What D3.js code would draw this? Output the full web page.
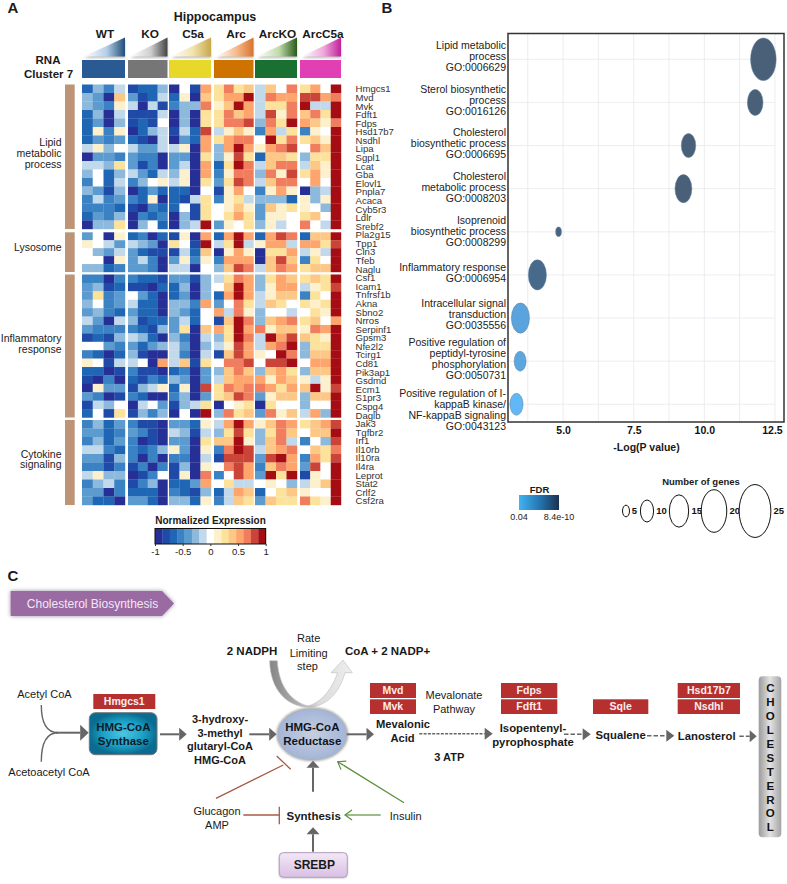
<!DOCTYPE html>
<html>
<head>
<meta charset="utf-8">
<script src="https://cdn.jsdelivr.net/npm/d3@7"></script>
<style>
html,body{margin:0;padding:0;background:#fff}
svg{display:block;font-family:"Liberation Sans",Arial,sans-serif}
</style>
</head>
<body>
<svg id="chart" width="787" height="884"></svg>
<script>
// ---------- Panel A data ----------
const groups = ["WT","KO","C5a","Arc","ArcKO","ArcC5a"];
const groupColors = ["#2a5a94","#767676","#e8d82a","#cf7300","#1a7030","#e040b4"];
const lipidGenes = ["Hmgcs1","Mvd","Mvk","Fdft1","Fdps","Hsd17b7","Nsdhl","Lipa","Sgpl1","Lcat","Gba","Elovl1","Pnpla7","Acaca","Cyb5r3","Ldlr","Srebf2"];
const lysosomeGenes = ["Pla2g15","Tpp1","Cln3","Tfeb","Naglu"];
const inflammatoryGenes = ["Csf1","Icam1","Tnfrsf1b","Akna","Sbno2","Nrros","Serpinf1","Gpsm3","Nfe2l2","Tcirg1","Cd81","Pik3ap1","Gsdmd","Ecm1","S1pr3","Cspg4","Daglb"];
const cytokineGenes = ["Jak3","Tgfbr2","Irf1","Il10rb","Il10ra","Il4ra","Leprot","Stat2","Crlf2","Csf2ra"];
// one letter per cell: a (-1) ... w (0) ... n (+1)
const expressionLevels = "abcdefgwhijklmn";
const lipidExpression = [
"cfdg bccf awbk ilij gjwl ikwn",
"feaj ebcg chaj ikkn glkk mmkl",
"fedh gagb dffl hjnk giil nggn",
"cfag bbbg afai iljk gmhl jlin",
"ceaf bcbw afai illm flin kjhl",
"chdh acfg bgcm ghjh dkgi dhwn",
"cede cbag aeck ikll wnil ijhn",
"ghfw geeg ghak fknk hklm wljn",
"aeed edda eeai fhmi cjji fiin",
"ggfi ebda egak cinl gjll gjhn",
"fwcf gecg fhak dhll flhm ikhn",
"dwcg dfwh ghai eiml gjll wkwn",
"febf acec ccaw bhkw dhkh afgn",
"dgde dcha cbgi dhig fffc hfhn",
"dddc badc cwbi whjh ejhi hwfn",
"cedf adcd afbi wiki ehhw ijwn",
"affi afwc afgn ehwi fhgw lwgn"];
const lysosomeExpression = [
"ewah cdac bhak cknk ckml cjjn",
"hwge gfea iwbn ging hkkg kkim",
"wfeg ecbb bgcj ahkh aiik ghgn",
"wwah egda ehdh dkkk ajmj diwn",
"ffcd eeda ggaw fjml gjlk ijjn"];
const inflammatoryExpression = [
"ddad dccb eebf gilk fikj ijin",
"efbc bbac cfaf wjnk fhkk ghim",
"eide weca ceaf cknk ghjj diwn",
"fwde gcca ffdk ewli gjiw ihin",
"efdc ecca fecw kglh fwwg wihn",
"geag fbcc egcw bjnl fjkl ijwk",
"eddd dcbf eiaj kink lhjj hlkn",
"bcbf gfca fdag finl gnkm jihn",
"wwed ecef geaf ghmk gkln fiin",
"dcac fbaa gdag bjmk hwnl fjjn",
"hwbg gwak gjbi wllm wmmn wkkn",
"ccab dbba cdae fjlj fjki fjjn",
"bada cbdc feae gjkk khkj hghn",
"ahee bfgh cham ilkl lkik jnhm",
"edab dcaa dfae ijml ehjj fjjn",
"bgfw agwe bfgi awhi aiww fwwn",
"cwbi bfdf awan flij elhj gkfn"];
const cytokineExpression = [
"dfce dbba eech gknk hjlk ijkm",
"eecd edba gfbg fimi filj wjjn",
"dfce daba eeai jjnh fjlg dwfm",
"ggdc dcdf heah dlnm gjkl wjil",
"eebf dada ddag bmmm emnk dkim",
"ddbd bdad bfah wlmk djlk emwn",
"ghff abdw bhal dwmk enin bhwn",
"dfgd bdfa ccek wigg whwf ghjn",
"eead ccca dcbf cgkj cwij hwwn",
"ecca eeca ffch dgji ejii lihn"];
const sectionNames = ["Lipid metabolic process","Lysosome","Inflammatory response","Cytokine signaling"];
const colorStops = ["#252f96","#1f4aa8","#1f66b5","#3a82c3","#5b9bcf","#8cb9dc","#c2d9ec","#ffffff","#fdf1cd","#fde29b","#fdc786","#fda56d","#f07e5e","#cb4438","#a50d14"];
const colorTicks = [-1,-0.5,0,0.5,1];

// ---------- Panel B data ----------
const goTerms = [
 ["Lipid metabolic","process","GO:0006629"],
 ["Sterol biosynthetic","process","GO:0016126"],
 ["Cholesterol","biosynthetic process","GO:0006695"],
 ["Cholesterol","metabolic process","GO:0008203"],
 ["Isoprenoid","biosynthetic process","GO:0008299"],
 ["Inflammatory response","GO:0006954"],
 ["Intracellular signal","transduction","GO:0035556"],
 ["Positive regulation of","peptidyl-tyrosine","phosphorylation","GO:0050731"],
 ["Positive regulation of I-","kappaB kinase/","NF-kappaB signaling","GO:0043123"]];
const logP = [12.09,11.8,9.44,9.26,4.84,4.09,3.49,3.48,3.35];
const geneCounts = [20,12,11,13,4,14,14,9,10];
const fdrValues = [8.4e-10,5e-9,1e-6,2e-6,1e-3,0.008,0.032,0.033,0.04];
const xTicks = [5,7.5,10,12.5];
const xGrid = [3.75,5,6.25,7.5,8.75,10,11.25,12.5];
const sizeLegend = [5,10,15,20,25];

// ---------- Panel C data ----------
const geneBoxes = [
 ["Hmgcs1",93.3,694,62,15],["Mvd",370,683,46,15],["Mvk",370,699.3,46,14.7],
 ["Fdps",501,683,56.3,15],["Fdft1",501,699.3,56.3,14.7],["Sqle",593,699.3,55.3,14.7],
 ["Hsd17b7",677.7,683,62.3,15],["Nsdhl",677.7,699.3,62.3,14.7]];

const svg = d3.select("#chart");
const defs = svg.append("defs");
function blur(id,sd,pad){
  defs.append("filter").attr("id",id).attr("x","-30%").attr("y","-30%").attr("width","160%").attr("height","160%")
    .append("feGaussianBlur").attr("stdDeviation",sd);
}
blur("soft",2); blur("soft1",1.2); blur("soft3",3);
function linGrad(id,stops,x2=1,y2=0){
  const g=defs.append("linearGradient").attr("id",id).attr("x1",0).attr("y1",0).attr("x2",x2).attr("y2",y2);
  stops.forEach(([o,c])=>g.append("stop").attr("offset",o).attr("stop-color",c));
}
function label(g,x,y,str,size,weight,anchor,fill){
  return g.append("text").attr("x",x).attr("y",y).attr("dy","0.35em").attr("font-size",size)
    .attr("font-weight",weight||"normal").attr("text-anchor",anchor||"middle").attr("fill",fill||"#1a1a1a").text(str);
}

// ================= PANEL A =================
const A = svg.append("g");
label(A,13,8,"A",15,"bold"); label(svg,387,8,"B",15,"bold"); label(svg,13,576,"C",15,"bold");
label(A,215,17,"Hippocampus",12.5,"bold");
const groupSpans = [[82,125],[128,167.5],[169,211],[214,253.5],[255,297],[300,341]];
const groupCentres = [105,150,193,236,277.5,323];
const triStops = [
 ["#ffffff","#b5cfe8","#1f4e79"],["#ffffff","#cfcfcf","#444444"],["#ffffff","#f2e3ad","#c8a84b"],
 ["#ffffff","#f6b98a","#d8742a"],["#ffffff","#bfdcaa","#2a5a1a"],["#ffffff","#f0a8dc","#c0209a"]];
groups.forEach((name,i)=>{
  const [x0,x1]=groupSpans[i];
  label(A,groupCentres[i],33.5,name,11.8,"bold");
  linGrad("tri"+i,[[0,triStops[i][0]],[0.55,triStops[i][1]],[1,triStops[i][2]]]);
  const pts=`${x0+2},56.5 ${x1},37.5 ${x1},56.5`;
  A.append("polygon").attr("points",pts).attr("fill","#888").attr("opacity",.55).attr("filter","url(#soft1)").attr("transform","translate(0,1.5)");
  A.append("polygon").attr("points",pts).attr("fill",`url(#tri${i})`);
  A.append("rect").attr("x",x0).attr("y",60).attr("width",x1-x0).attr("height",18).attr("fill",groupColors[i]);
});
label(A,48,60,"RNA",11.5,"bold"); label(A,48.5,74,"Cluster 7",11.5,"bold");

const color = d3.scaleQuantize().domain([-1,1]).range(colorStops);
const levelValue = d3.scaleLinear().domain([0,14]).range([-1+1/15,1-1/15]);
const sections = [
 {name:sectionNames[0],rows:lipidExpression,genes:lipidGenes,y:[84.5,229],lab:[["Lipid",142.7],["metabolic",153.3],["process",164.5]]},
 {name:sectionNames[1],rows:lysosomeExpression,genes:lysosomeGenes,y:[232.3,272],lab:[["Lysosome",247.7]]},
 {name:sectionNames[2],rows:inflammatoryExpression,genes:inflammatoryGenes,y:[274.5,417.5],lab:[["Inflammatory",338],["response",349]]},
 {name:sectionNames[3],rows:cytokineExpression,genes:cytokineGenes,y:[420,505],lab:[["Cytokine",454],["signaling",464.5]]}];
const colScales = groupSpans.map(s=>d3.scaleBand().domain(d3.range(4)).range(s));
sections.forEach(sec=>{
  const y=d3.scaleBand().domain(sec.genes).range(sec.y);
  A.append("rect").attr("x",65).attr("width",9.7).attr("y",sec.y[0]).attr("height",sec.y[1]-sec.y[0]).attr("fill","#bd9475");
  sec.lab.forEach(([t,yy])=>label(A,61.5,yy,t,10.5,"normal","end","#222"));
  const cells=sec.rows.flatMap((row,r)=>row.split(" ").flatMap((part,g)=>[...part].map((ch,c)=>({
    gene:sec.genes[r],g,c,value:levelValue(expressionLevels.indexOf(ch))}))));
  A.append("g").selectAll("rect").data(cells).join("rect")
    .attr("x",d=>colScales[d.g](d.c)).attr("width",d=>colScales[d.g].bandwidth()+.2)
    .attr("y",d=>y(d.gene)).attr("height",y.bandwidth()+.2).attr("fill",d=>color(d.value));
});
const allGenes=[...lipidGenes,...lysosomeGenes,...inflammatoryGenes,...cytokineGenes];
const geneY=d3.scalePoint().domain(allGenes).range([89,501]);
A.append("g").selectAll("text").data(allGenes).join("text")
  .attr("x",355.5).attr("y",d=>geneY(d)).attr("dy","0.35em").attr("font-size",9.6).attr("fill","#333").text(d=>d);

// colour bar
label(A,210.5,520.5,"Normalized Expression",10,"bold");
const cbX=d3.scaleLinear().domain([-1,1]).range([155,265.7]);
const cbBins=colorStops.map((c,i)=>({c,x0:-1+i*2/15,x1:-1+(i+1)*2/15}));
A.append("g").selectAll("rect").data(cbBins).join("rect")
  .attr("x",d=>cbX(d.x0)).attr("width",d=>cbX(d.x1)-cbX(d.x0)+.3).attr("y",528.5).attr("height",15.5).attr("fill",d=>d.c);
A.append("rect").attr("x",155).attr("y",528.5).attr("width",110.7).attr("height",15.5).attr("fill","none").attr("stroke","#111").attr("stroke-width",1);
const cbAxis=A.append("g").attr("transform","translate(0,544)")
  .call(d3.axisBottom(cbX).tickValues(colorTicks).tickSize(2).tickFormat(d=>d===0?"0":String(d)));
cbAxis.select(".domain").remove();
cbAxis.selectAll("line").attr("stroke","#333");
cbAxis.selectAll("text").attr("font-size",9.5).attr("font-family","inherit").attr("fill","#222").attr("y",4);

// ================= PANEL B =================
const B=svg.append("g");
const plot={l:508,r:784,t:33.5,b:422};
const x=d3.scaleLinear().domain([3.05,12.82]).range([plot.l,plot.r]);
const yBand=d3.scalePoint().domain(d3.range(goTerms.length)).range([59.3,404.3]);
const ry=d3.scaleLinear().domain([4,20]).range([4.8,21.3]);
const fdrColor=d3.scaleLinear().domain([0.04,0.032,0.008,0.001,0]).range(["#62b8f6","#5aa3dc","#47698a","#4a6480","#4a6078"]);
B.append("rect").attr("x",plot.l).attr("y",plot.t).attr("width",plot.r-plot.l).attr("height",plot.b-plot.t).attr("fill","#fff");
B.append("g").selectAll("line").data(xGrid).join("line")
  .attr("x1",d=>x(d)).attr("x2",d=>x(d)).attr("y1",plot.t).attr("y2",plot.b).attr("stroke","#e9e9ee").attr("stroke-width",.8);
B.append("g").selectAll("line").data(d3.range(goTerms.length)).join("line")
  .attr("x1",plot.l).attr("x2",x(12.5)).attr("y1",d=>yBand(d)).attr("y2",d=>yBand(d)).attr("stroke","#e9e9ee").attr("stroke-width",.8);
B.append("rect").attr("x",plot.l).attr("y",plot.t).attr("width",plot.r-plot.l).attr("height",plot.b-plot.t)
  .attr("fill","none").attr("stroke","#333").attr("stroke-width",1.5);
B.append("g").selectAll("ellipse").data(goTerms.map((_,i)=>i)).join("ellipse")
  .attr("cx",i=>x(logP[i])).attr("cy",i=>yBand(i))
  .attr("rx",i=>ry(geneCounts[i])*0.6).attr("ry",i=>ry(geneCounts[i]))
  .attr("fill",i=>fdrColor(fdrValues[i])).attr("stroke","#5b7d9c").attr("stroke-width",.5);
const labelShift=[-2.5,-2,-2,-1.5,0,-2,-4,-2,6];
goTerms.forEach((lines,i)=>{
  const cy=yBand(i)+labelShift[i], lh=11;
  lines.forEach((t,k)=>label(B,506,cy+(k-(lines.length-1)/2)*lh,t,10.5,"normal","end","#222"));
});
const xAxis=B.append("g").attr("transform",`translate(0,${plot.b})`)
  .call(d3.axisBottom(x).tickValues(xTicks).tickSize(0).tickFormat(d3.format(".1f")));
xAxis.select(".domain").remove();
xAxis.selectAll("text").attr("font-size",10.5).attr("font-weight","bold").attr("font-family","inherit").attr("fill","#111").attr("y",4.5)
  .attr("dx",d=>d===12.5?-3:0);
label(B,646.5,447.5,"-Log(P value)",10.5,"bold");

// FDR legend
label(B,539.5,489.5,"FDR",9.5,"bold");
linGrad("fdr",[[0,"#41b3f2"],[.5,"#2478b4"],[1,"#1c3150"]]);
B.append("rect").attr("x",519).attr("y",495).attr("width",40).attr("height",15).attr("fill","url(#fdr)");
label(B,519,516.5,"0.04",9,"normal","middle","#222");
label(B,559,516.5,"8.4e-10",9,"normal","middle","#222");
// size legend
label(B,701,482,"Number of genes",9.5,"bold");
const sizeCx=[626,647,679,714,755];
sizeLegend.forEach((n,i)=>{
  const r=ry(n);
  B.append("ellipse").attr("cx",sizeCx[i]).attr("cy",511).attr("rx",r*0.6).attr("ry",r).attr("fill","#fff").attr("stroke","#111").attr("stroke-width",1);
  label(B,sizeCx[i]+r*0.6+(n<10?5:8),511,String(n),9.5,"bold","middle","#111");
});

// ================= PANEL C =================
const C=svg.append("g");
const GREY="#666";
function arrow(x1,y1,x2,y2,opts={}){
  const c=opts.color||GREY, w=opts.w||2, hl=opts.hl||7.5, hw=opts.hw||6;
  const a=Math.atan2(y2-y1,x2-x1), ux=Math.cos(a), uy=Math.sin(a);
  const bx=x2-ux*hl, by=y2-uy*hl;
  C.append("line").attr("x1",x1).attr("y1",y1).attr("x2",bx).attr("y2",by).attr("stroke",c).attr("stroke-width",w)
    .attr("stroke-dasharray",opts.dash||null);
  if(opts.open){
    C.append("path").attr("d",`M${bx-uy*hw},${by+ux*hw}L${x2},${y2}L${bx+uy*hw},${by-ux*hw}`).attr("fill","none").attr("stroke",c).attr("stroke-width",w);
    C.append("line").attr("x1",bx).attr("y1",by).attr("x2",x2).attr("y2",y2).attr("stroke",c).attr("stroke-width",w);
  } else {
    C.append("path").attr("d",`M${bx-uy*hw},${by+ux*hw}L${x2},${y2}L${bx+uy*hw},${by-ux*hw}Z`).attr("fill",c);
  }
}
function tbar(x1,y1,x2,y2,bx1,by1,bx2,by2){
  const c="#a85a45";
  C.append("line").attr("x1",x1).attr("y1",y1).attr("x2",x2).attr("y2",y2).attr("stroke",c).attr("stroke-width",1.3);
  C.append("line").attr("x1",bx1).attr("y1",by1).attr("x2",bx2).attr("y2",by2).attr("stroke",c).attr("stroke-width",1.3);
}
// banner
const bannerPts="10.7,591 162,591 174,603.5 162,616 10.7,616";
C.append("polygon").attr("points",bannerPts).attr("fill","#7d6a8a").attr("opacity",.75).attr("filter","url(#soft)");
C.append("polygon").attr("points",bannerPts).attr("fill","#9a6aa3");
label(C,92.5,604,"Cholesterol Biosynthesis",12,"normal","middle","#f1e8f3");

// curved rate-limiting arrow
linGrad("curve",[[0,"#858585"],[.35,"#b0b0b0"],[.6,"#dcdcdc"],[1,"#eeeeee"]]);
C.append("path").attr("d","M269.7 660.7 C270 690 288 708 310 707 C326 706 339 694 345 672.7 L352.3 672.7 L343 660 L331 672.7 L337.5 672.7 C332 690 320 703 308 706 C294 702 279 690 277.3 660.7 Z")
  .attr("fill","url(#curve)").attr("stroke","#bdbdbd").attr("stroke-width",.6);
label(C,252,650.7,"2 NADPH",11.5,"bold");
label(C,308.7,638.3,"Rate",11); label(C,308.7,652.7,"Limiting",11); label(C,307.5,665.7,"step",11);
label(C,387.5,650.7,"CoA + 2 NADP+",11.5,"bold");

// acetyl merge
label(C,44.5,694.3,"Acetyl CoA",11);
label(C,49,772.3,"Acetoacetyl CoA",11);
C.append("path").attr("d","M41.3 705 C41.3 722 46 732.7 58 732.7 M41.3 761.7 C41.3 744 46 732.7 58 732.7").attr("fill","none").attr("stroke",GREY).attr("stroke-width",1.4);
arrow(56,732.7,88.7,732.7,{w:2,hl:8.5,hw:8});

// synthase
linGrad("dummy",[[0,"#000"],[1,"#000"]]);
const syn=defs.append("radialGradient").attr("id","syn");
syn.append("stop").attr("offset",0).attr("stop-color","#4cc6e4");
syn.append("stop").attr("offset",.6).attr("stop-color","#1ba0c6");
syn.append("stop").attr("offset",1).attr("stop-color","#0a6c90");
C.append("rect").attr("x",89.3).attr("y",712.7).attr("width",67.7).attr("height",42).attr("rx",6).attr("fill","url(#syn)").attr("stroke","#777").attr("stroke-width",1);
label(C,123.3,727.3,"HMG-CoA",11.5,"bold","middle","#0c1c28"); label(C,123.3,741.3,"Synthase",11.5,"bold","middle","#0c1c28");
arrow(160,734.3,186.7,734.3,{hl:7.5,hw:6.5});
[["3-hydroxy-",719],["3-methyl",733],["glutaryl-CoA",746.3],["HMG-CoA",760]].forEach(([t,yy])=>label(C,220,yy,t,11,"bold"));
arrow(249.3,734.3,276.7,734.3,{hl:7.5,hw:6.5});

// reductase
C.append("ellipse").attr("cx",312.3).attr("cy",734.3).attr("rx",36).attr("ry",27).attr("fill","#888").attr("opacity",.7).attr("filter","url(#soft1)");
const red=defs.append("radialGradient").attr("id","red");
red.append("stop").attr("offset",0).attr("stop-color","#c8cfdd");
red.append("stop").attr("offset",1).attr("stop-color","#a3b5d8");
C.append("ellipse").attr("cx",312.3).attr("cy",734.3).attr("rx",34.3).attr("ry",25.3).attr("fill","url(#red)");
label(C,312.3,727.3,"HMG-CoA",11.5,"bold","middle","#10141f"); label(C,312.3,741.3,"Reductase",11.5,"bold","middle","#10141f");
arrow(346.7,734.3,374,734.3,{hl:7.5,hw:6.5});

// gene boxes
geneBoxes.forEach(([t,xx,yy,w,h])=>{
  C.append("rect").attr("x",xx).attr("y",yy).attr("width",w).attr("height",h).attr("fill","#b5302f");
  label(C,xx+w/2,yy+h/2,t,10.5,"bold","middle","#fbeeee");
});
label(C,454,695,"Mevalonate",11); label(C,454,709.3,"Pathway",11);
label(C,403,724,"Mevalonic",11.2,"bold"); label(C,402.5,738,"Acid",11.2,"bold");
label(C,449.3,757.3,"3 ATP",11,"bold");
label(C,533,728,"Isopentenyl-",11.3,"bold"); label(C,533,742.3,"pyrophosphate",11.3,"bold");
label(C,620.7,735,"Squalene",11.3,"bold"); label(C,706.7,735.7,"Lanosterol",11.3,"bold");
const dash="3,1.6";
arrow(419.3,733.7,492.7,733.7,{dash:"3,1.3",w:1.5,hl:8,hw:6});
arrow(564,734.3,590.7,734.3,{dash:"4.5,2",w:1.5,hl:8,hw:6});
arrow(647,735.7,674.3,735.7,{dash:"4.5,2",w:1.5,hl:8,hw:6});
arrow(739.3,736.3,756.7,736.3,{dash:"4.5,2",w:1.5,hl:7,hw:6});

// cholesterol column
linGrad("cholH",[[0,"#9b9b9b"],[.5,"#e2e2e2"],[1,"#a5a5a5"]]);
C.append("rect").attr("x",758.7).attr("y",676.3).attr("width",22.6).attr("height",161).attr("rx",4).attr("fill","url(#cholH)");
const chol=[..."CHOLESTEROL"];
const cholY=d3.scalePoint().domain(d3.range(chol.length)).range([688.3,827.3]);
chol.forEach((ch,i)=>label(C,770.3,cholY(i),ch,11.5,"bold","middle","#111"));

// lower regulators
arrow(313,791.7,313,760.7,{hl:7,hw:6.5});
arrow(313,851.7,313,827.3,{hl:7,hw:6.5});
tbar(216,798.3,283.3,765,276.7,756,290.7,769.3);
tbar(243.3,815,279.3,815,279.3,806.7,279.3,824.3);
arrow(404,802.7,337.7,761.7,{color:"#5a8f3a",w:1.2,open:true,hl:7,hw:5});
arrow(380.7,815,345,815,{color:"#5a8f3a",w:1.2,open:true,hl:7,hw:5});
label(C,217,811,"Glucagon",11); label(C,217,824.7,"AMP",11);
label(C,313.7,815.7,"Synthesis",11.5,"bold");
label(C,405.7,816,"Insulin",11);
linGrad("srebp",[[0,"#f3e8f6"],[1,"#d8c0e3"]],0,1);
C.append("rect").attr("x",279.3).attr("y",853.5).attr("width",68).attr("height",24.5).attr("rx",4).attr("fill","#888").attr("opacity",.6).attr("filter","url(#soft1)");
C.append("rect").attr("x",279.3).attr("y",852.7).attr("width",68).attr("height",24.6).attr("rx",4).attr("fill","url(#srebp)").attr("stroke","#b49bc0").attr("stroke-width",1);
label(C,314.3,864.5,"SREBP",12,"bold");
</script>
</body>
</html>
